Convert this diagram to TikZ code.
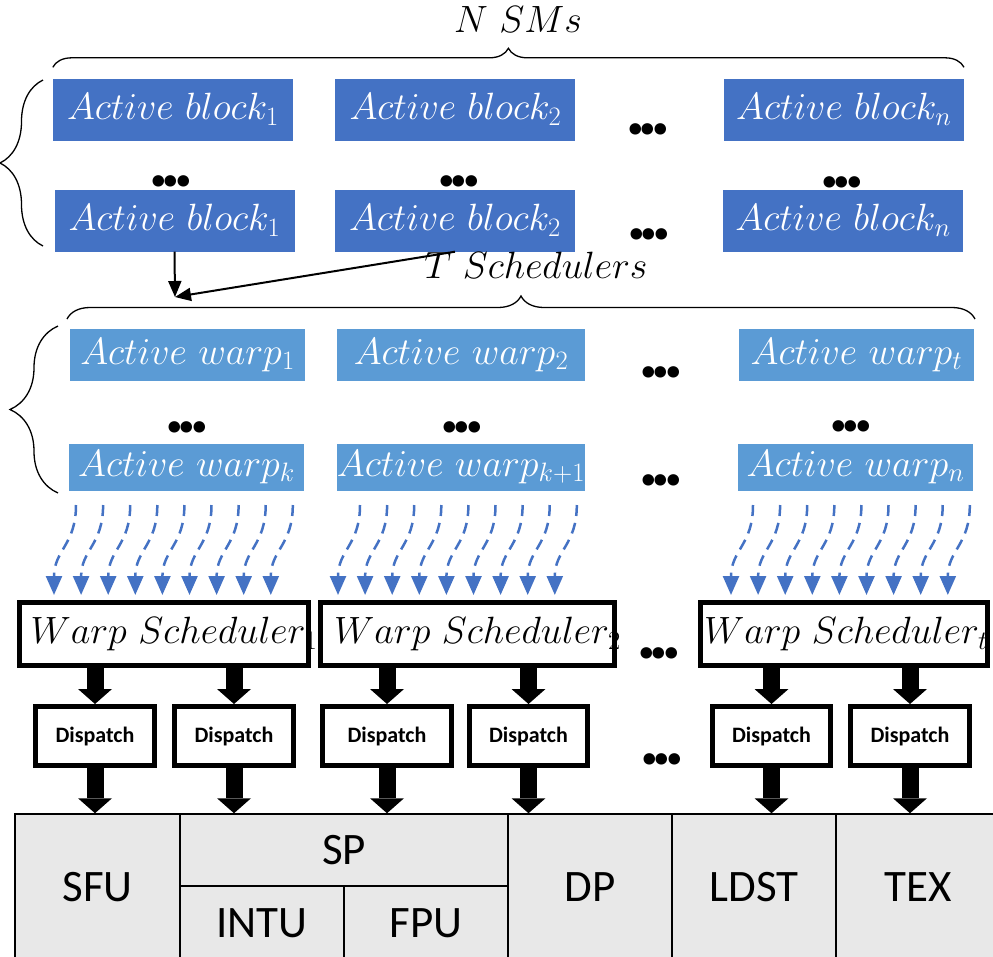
\RequirePackage{fix-cm}
\documentclass[tikz,border=0pt]{standalone}
\usepackage{fontspec}
\newfontfamily\calibri{Carlito}
\usepackage{tikz}
\usetikzlibrary{arrows.meta, positioning, decorations.pathreplacing}
\definecolor{blockblue}{HTML}{4472C4}
\definecolor{warpblue}{HTML}{5B9BD5}
\definecolor{unitgray}{HTML}{E8E8E8}
\newcommand{\mathsz}{\fontsize{38}{40}\selectfont}
\newcommand{\moredots}{{\calibri\bfseries\fontsize{77}{77}\selectfont .\kern-8pt.\kern-8pt.}}
\newcommand{\wsname}[2]{\hspace*{#2}$Warp\ Scheduler_{#1}$\hspace*{-#2}}
\tikzset{
  block/.style    = {fill=blockblue, text=white, minimum width=240pt,
                     minimum height=62pt, inner sep=0pt, font=\mathsz},
  warp/.style     = {fill=warpblue, text=white, minimum width=235pt,
                     inner sep=0pt, font=\mathsz},
  sched/.style    = {draw=black, line width=5pt, minimum height=63pt,
                     inner sep=0pt, font=\mathsz},
  dispatch/.style = {draw=black, line width=5pt, minimum width=119pt,
                     minimum height=59pt, inner sep=0pt,
                     font=\calibri\bfseries\fontsize{22}{24}\selectfont},
  unit/.style     = {draw=black, line width=1.5pt, fill=unitgray,
                     minimum width=164pt, inner sep=0pt,
                     font=\calibri\fontsize{45}{50}\selectfont},
  gap/.style      = {inner sep=0pt},
  curly/.style    = {decorate, decoration={brace, amplitude=#1}, line width=1.3pt},
  thinarrow/.style= {-{Triangle[width=13pt,length=16pt]}, line width=2pt},
  fatarrow/.style = {-{Triangle[width=34pt,length=15pt,line width=0pt]}, line width=17pt},
  flow/.style     = {-{Triangle[width=16pt,length=19pt]}, draw=blockblue,
                     line width=2.5pt, dash pattern=on 11pt off 7pt},
}
\begin{document}
\begin{tikzpicture}[x=1pt, y=-1pt]
    \useasboundingbox (0,0) rectangle (993,956);
    \clip (0,0) rectangle (993,956);

    % -- active blocks of the N SMs ------------------------------------
    \node[block] (b11) at (173,109.5) {$Active\ block_1$};
    \node[block, right=42pt of b11] (b12) {$Active\ block_2$};
    \node[block, right=148pt of b12] (b13) {$Active\ block_n$};
    \node[block] (b21) at (174.5,220.5) {$Active\ block_1$};
    \node[block] (b22) at (455,220.5) {$Active\ block_2$};
    \node[block] (b23) at (843,220.5) {$Active\ block_n$};

    \node[gap] (bd1) at (648,129) {\moredots};
    \node[gap] (bd2) at (649,234) {\moredots};
    \node[gap] (bv1) at (171,181) {\moredots};
    \node[gap] (bv2) at (459,181) {\moredots};
    \node[gap] (bv3) at (842,182) {\moredots};

    \draw[curly=19] ([yshift=11pt]b11.north west) -- ([yshift=11pt]b13.north east);
    \node[anchor=base, font=\mathsz] (nsm) at (518,32) {$N\ SMs$};
    \draw[curly=43] (43,246) -- (43,80);

    % -- blocks go to the schedulers -----------------------------------
    \coordinate (join) at (175,297);
    \draw[thinarrow] (b21.south) -- (join);
    \draw[thinarrow] (b22.south) -- (join);

    \node[anchor=base, font=\mathsz] (tsch) at (536,278) {$T\ Schedulers$};
    \draw[curly=23] (67,319) -- (975,319);
    \draw[curly=48] (58,493) -- (58,326);

    % -- active warps --------------------------------------------------
    \node[warp, minimum height=52pt] (w11) at (187.5,355) {$Active\ warp_1$};
    \node[warp, minimum width=248pt, minimum height=52pt] (w12) at (461,355) {$Active\ warp_2$};
    \node[warp, minimum height=52pt] (w13) at (856.5,355) {$Active\ warp_t$};
    \node[warp, minimum height=47pt] (w21) at (186.5,467) {$Active\ warp_k$};
    \node[warp, minimum width=248pt, minimum height=47pt] (w22) at (461,467) {$Active\ warp_{k+1}$};
    \node[warp, minimum height=47pt] (w23) at (855.5,467) {$Active\ warp_n$};

    \node[gap] (wd1) at (661,372) {\moredots};
    \node[gap] (wd2) at (661,480) {\moredots};
    \node[gap] (wv1) at (187,427) {\moredots};
    \node[gap] (wv2) at (462,427) {\moredots};
    \node[gap] (wv3) at (851,426) {\moredots};

    \foreach \sx in {76,360,753}
      \foreach \i in {0,...,8}
        \draw[flow] ({\sx+27.1*\i},505) .. controls +(0,40) and +(0,-45) .. ({\sx+27.1*\i-22},595);

    % -- warp schedulers and dispatch units ----------------------------
    \node[sched, minimum width=289pt] (ws1) at (164,634) {\wsname{1}{10pt}};
    \node[sched, minimum width=294pt] (ws2) at (467.5,634) {\wsname{2}{10pt}};
    \node[sched, minimum width=287pt] (ws3) at (844,634) {\wsname{t}{2pt}};
    \node[gap] (sd) at (659,653) {\moredots};

    \node[dispatch] (d1) at (95,736) {Dispatch};
    \node[dispatch] (d2) at (234,736) {Dispatch};
    \node[dispatch, minimum width=129pt] (d3) at (387,736) {Dispatch};
    \node[dispatch, minimum width=118pt] (d4) at (528.5,736) {Dispatch};
    \node[dispatch, minimum width=118pt] (d5) at (771.5,736) {Dispatch};
    \node[dispatch] (d6) at (910,736) {Dispatch};
    \node[gap] (dd) at (662,759) {\moredots};

    % -- execution units -----------------------------------------------
    \node[unit, minimum width=165pt, minimum height=146pt] (sfu) at (97.5,887) {SFU};
    \node[unit, minimum width=328pt, minimum height=72pt] (sp) at (344,850) {SP};
    \node[unit, minimum height=74pt] (intu) at (262,923) {INTU};
    \node[unit, minimum height=74pt] (fpu) at (426,923) {FPU};
    \node[unit, minimum height=146pt] (dp) at (590,887) {DP};
    \node[unit, minimum height=146pt] (ldst) at (754,887) {LDST};
    \node[unit, minimum height=146pt] (tex) at (918,887) {TEX};

    \foreach \d/\s in {d1/ws1, d2/ws1, d3/ws2, d4/ws2, d5/ws3, d6/ws3}
      \draw[fatarrow] (\d.north |- \s.south) -- (\d.north);
    \foreach \d/\u in {d1/sfu, d2/sp, d3/sp, d4/dp, d5/ldst, d6/tex}
      \draw[fatarrow] (\d.south) -- (\d.south |- \u.north);

\end{tikzpicture}
\end{document}
